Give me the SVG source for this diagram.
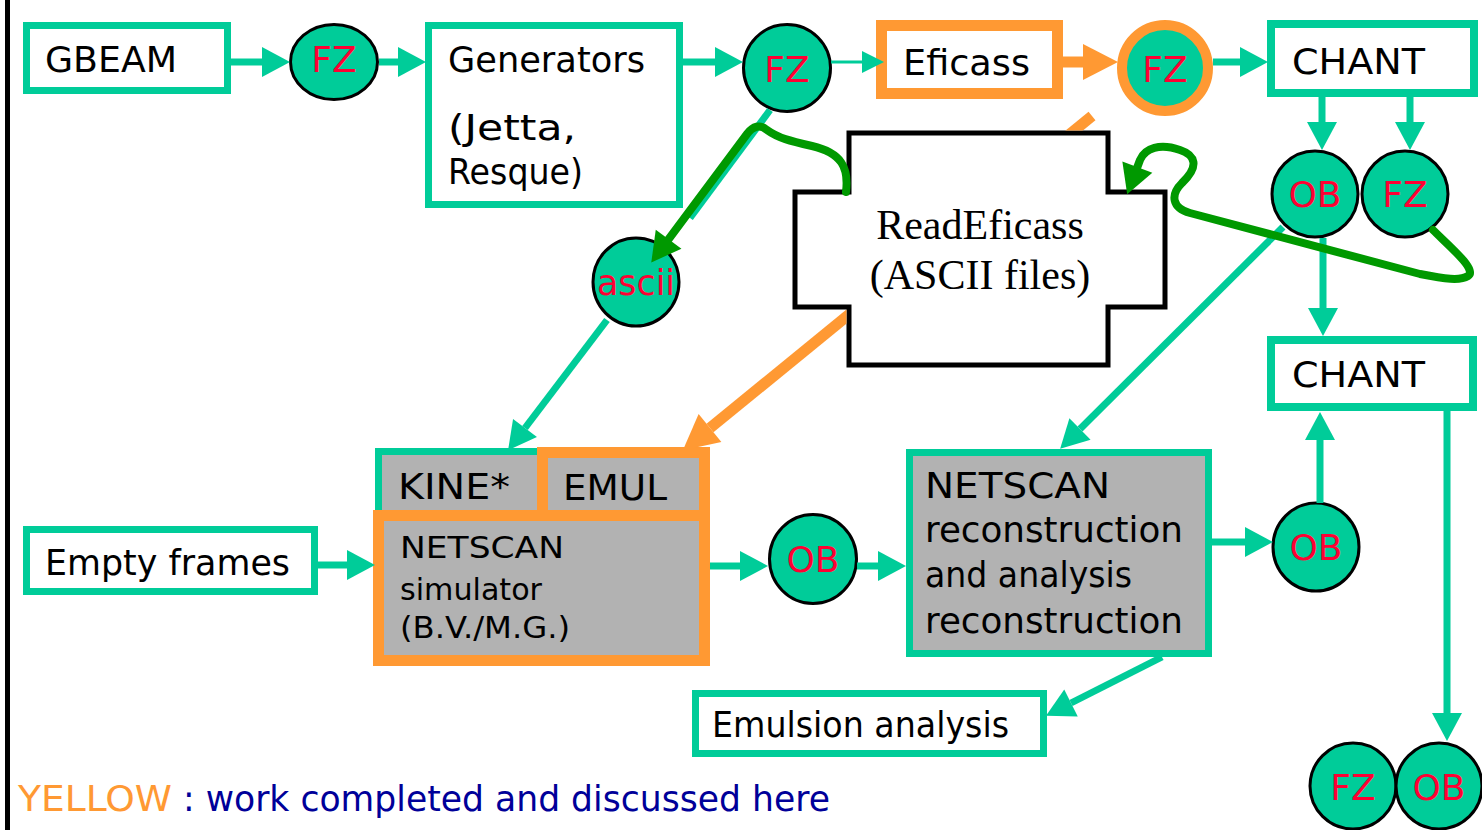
<svg xmlns="http://www.w3.org/2000/svg" width="1482" height="830" viewBox="0 0 1482 830">
<style>
.tb{fill:#fff;stroke:#00CC99;stroke-width:7}
.tg{fill:#B2B2B2;stroke:#00CC99;stroke-width:7}
.ob{fill:#fff;stroke:#FF9933;stroke-width:11}
.og{fill:#B2B2B2;stroke:#FF9933;stroke-width:11}
.c{fill:#00CC99;stroke:#000;stroke-width:3}
.t{font-family:"DejaVu Sans",sans-serif;font-size:36px;fill:#000}
.s{font-size:30px}
.ct{font-family:"DejaVu Sans",sans-serif;font-size:36px;fill:#FF0033;text-anchor:middle}
.ln{stroke:#00CC99;stroke-width:7;fill:none}
.thin{stroke:#00CC99;stroke-width:3;fill:none}
.ol{stroke:#FF9933;stroke-width:11;fill:none}
.gl{stroke:#009900;stroke-width:8;fill:none;stroke-linejoin:round;stroke-linecap:round}
.rt{font-family:"Liberation Serif",serif;font-size:42px;fill:#000;text-anchor:middle}
</style>
<defs>
<marker id="ah" markerUnits="userSpaceOnUse" markerWidth="30" markerHeight="32" refX="0" refY="16" orient="auto" overflow="visible"><path d="M0,1 L28,16 L0,31 Z" fill="#00CC99"/></marker>
<marker id="ahs" markerUnits="userSpaceOnUse" markerWidth="24" markerHeight="24" refX="0" refY="12" orient="auto" overflow="visible"><path d="M0,1 L22,12 L0,23 Z" fill="#00CC99"/></marker>
<marker id="aho" markerUnits="userSpaceOnUse" markerWidth="36" markerHeight="38" refX="0" refY="19" orient="auto" overflow="visible"><path d="M0,1 L35,19 L0,37 Z" fill="#FF9933"/></marker>
<marker id="ahg" markerUnits="userSpaceOnUse" markerWidth="30" markerHeight="34" refX="1" refY="17" orient="auto" overflow="visible"><path d="M0,1 L29,17 L0,33 Z" fill="#009900"/></marker>
<mask id="boxmask" maskUnits="userSpaceOnUse" x="0" y="0" width="1482" height="830">
<rect x="0" y="0" width="1482" height="830" fill="#fff"/>
<path d="M849 133 H1108 V192 H1165 V307 H1108 V365 H849 V307 H795 V192 H849 Z" fill="#000" stroke="#000" stroke-width="5"/>
</mask>
</defs>
<rect x="5" y="0" width="5" height="830" fill="#000"/>
<g id="gbeam"><rect class="tb" x="26.5" y="25.5" width="201" height="65"/><text class="t" x="45" y="72" textLength="132" lengthAdjust="spacingAndGlyphs">GBEAM</text></g>
<g id="fz1"><ellipse class="c" cx="334" cy="62" rx="43.5" ry="37.5"/><text class="ct" x="334" y="72">FZ</text></g>
<g id="generators"><rect class="tb" x="428.5" y="25.5" width="251" height="179"/><text class="t" x="448" y="72" textLength="197" lengthAdjust="spacingAndGlyphs">Generators</text><text class="t" x="448" y="140" textLength="128" lengthAdjust="spacingAndGlyphs">(Jetta,</text><text class="t" x="448" y="184" textLength="135" lengthAdjust="spacingAndGlyphs">Resque)</text></g>
<g id="fz2"><circle class="c" cx="787" cy="68" r="43.5"/><text class="ct" x="787" y="82">FZ</text></g>
<g id="eficass"><rect class="ob" x="881.5" y="25.5" width="176" height="68"/><text class="t" x="903" y="75" textLength="127" lengthAdjust="spacingAndGlyphs">Eficass</text></g>
<g id="fz3"><circle cx="1165" cy="68" r="43" fill="#00CC99" stroke="#FF9933" stroke-width="10"/><text class="ct" x="1165" y="82">FZ</text></g>
<g id="chant1"><rect x="1271" y="24" width="203" height="69" fill="#fff" stroke="#00CC99" stroke-width="8"/><text class="t" x="1292" y="74" textLength="133" lengthAdjust="spacingAndGlyphs">CHANT</text></g>
<g id="ob1"><circle class="c" cx="1315" cy="194" r="43"/><text class="ct" x="1315" y="207">OB</text></g>
<g id="fz4"><circle class="c" cx="1405" cy="194" r="43"/><text class="ct" x="1405" y="207">FZ</text></g>
<g id="readeficass"><path d="M849 133 H1108 V192 H1165 V307 H1108 V365 H849 V307 H795 V192 H849 Z" fill="#fff" stroke="#000" stroke-width="5"/><text class="rt" x="980" y="239">ReadEficass</text><text class="rt" x="980" y="289">(ASCII files)</text></g>
<g id="ascii"><ellipse class="c" cx="636" cy="282" rx="43" ry="44"/><text class="ct" x="636" y="295" font-size="33" textLength="78" lengthAdjust="spacingAndGlyphs">ascii</text></g>
<g id="kine"><rect class="tg" x="378.5" y="451.5" width="162" height="70"/><text class="t" x="398" y="499" textLength="112" lengthAdjust="spacingAndGlyphs">KINE*</text></g>
<g id="emul"><rect class="og" x="542.5" y="452.5" width="162" height="70"/><text class="t" x="563" y="500" textLength="104" lengthAdjust="spacingAndGlyphs">EMUL</text></g>
<g id="netscan-sim"><rect class="og" x="378.5" y="515.5" width="326" height="145"/><text class="t s" x="400" y="558" textLength="164" lengthAdjust="spacingAndGlyphs">NETSCAN</text><text class="t s" x="400" y="600" textLength="142" lengthAdjust="spacingAndGlyphs">simulator</text><text class="t s" x="400" y="638" textLength="170" lengthAdjust="spacingAndGlyphs">(B.V./M.G.)</text></g>
<g id="empty-frames"><rect class="tb" x="26.5" y="529.5" width="288" height="62"/><text class="t" x="45" y="575" textLength="245" lengthAdjust="spacingAndGlyphs">Empty frames</text></g>
<g id="ob2"><ellipse class="c" cx="813" cy="559" rx="43.5" ry="44.5"/><text class="ct" x="813" y="572">OB</text></g>
<g id="netscan-rec"><rect class="tg" x="909.5" y="452.5" width="299" height="201"/><text class="t" x="925" y="498" textLength="185" lengthAdjust="spacingAndGlyphs">NETSCAN</text><text class="t" x="925" y="542" textLength="258" lengthAdjust="spacingAndGlyphs">reconstruction</text><text class="t" x="925" y="587" textLength="207" lengthAdjust="spacingAndGlyphs">and analysis</text><text class="t" x="925" y="633" textLength="258" lengthAdjust="spacingAndGlyphs">reconstruction</text></g>
<g id="ob3"><ellipse class="c" cx="1316" cy="547" rx="43" ry="44"/><text class="ct" x="1316" y="560">OB</text></g>
<g id="chant2"><rect x="1271" y="340" width="202" height="67" fill="#fff" stroke="#00CC99" stroke-width="8"/><text class="t" x="1292" y="387" textLength="133" lengthAdjust="spacingAndGlyphs">CHANT</text></g>
<g id="emulsion"><rect class="tb" x="695.5" y="693.5" width="348" height="60"/><text class="t" x="712" y="737" textLength="297" lengthAdjust="spacingAndGlyphs">Emulsion analysis</text></g>
<g id="fz5"><circle class="c" cx="1353" cy="786" r="43"/><text class="ct" x="1353" y="800">FZ</text></g>
<g id="ob4"><circle class="c" cx="1439" cy="786" r="43"/><text class="ct" x="1439" y="800">OB</text></g>
<g id="connectors">
<path class="ln" d="M231 62 H262" marker-end="url(#ah)"/>
<path class="ln" d="M379 62 H398" marker-end="url(#ah)"/>
<path class="ln" d="M683 62 H715" marker-end="url(#ah)"/>
<path class="thin" d="M831 62 H862" marker-end="url(#ahs)"/>
<path class="ol" d="M1063 62 H1083" marker-end="url(#aho)"/>
<path class="ln" d="M1213 62 H1240" marker-end="url(#ah)"/>
<path class="ln" d="M1322 97 V122" marker-end="url(#ah)"/>
<path class="ln" d="M1410 97 V122" marker-end="url(#ah)"/>
<path class="ln" d="M1323 238 V308" marker-end="url(#ah)"/>
<path class="ln" d="M1283 227 L1080 429" marker-end="url(#ah)"/>
<path class="ln" d="M770 110 L690 218"/>
<path class="ln" d="M607 320 L525 428" marker-end="url(#ah)"/>
<path class="ol" d="M1092 116 L710 428" marker-end="url(#aho)" mask="url(#boxmask)"/>
<path class="ln" d="M318 565 H347" marker-end="url(#ah)"/>
<path class="ln" d="M710 566 H740" marker-end="url(#ah)"/>
<path class="ln" d="M857 566 H878" marker-end="url(#ah)"/>
<path class="ln" d="M1212 542 H1245" marker-end="url(#ah)"/>
<path class="ln" d="M1320 503 V440" marker-end="url(#ah)"/>
<path class="ln" d="M1447 407 V713" marker-end="url(#ah)"/>
<path class="ln" d="M1162 657 L1071 703" marker-end="url(#ah)"/>
<path class="gl" d="M846 192 C849 168 842 153 812 146 C790 141 778 138 767 130 C760 124 753 126 747 134 L668 240" marker-end="url(#ahg)"/>
<path class="gl" d="M1433 230 C1448 245 1478 270 1468 276 C1460 281 1445 279 1420 274 L1190 213 C1172 208 1170 195 1182 183 C1200 166 1195 155 1180 150 C1160 143 1145 148 1140 160 L1137 168" marker-end="url(#ahg)"/>
</g>
<g id="legend"><text class="t" x="18" y="811" style="fill:#FF9933" textLength="154" lengthAdjust="spacingAndGlyphs">YELLOW</text><text class="t" x="183" y="811" style="fill:#000099" textLength="647" lengthAdjust="spacingAndGlyphs">: work completed and discussed here</text></g>
</svg>
